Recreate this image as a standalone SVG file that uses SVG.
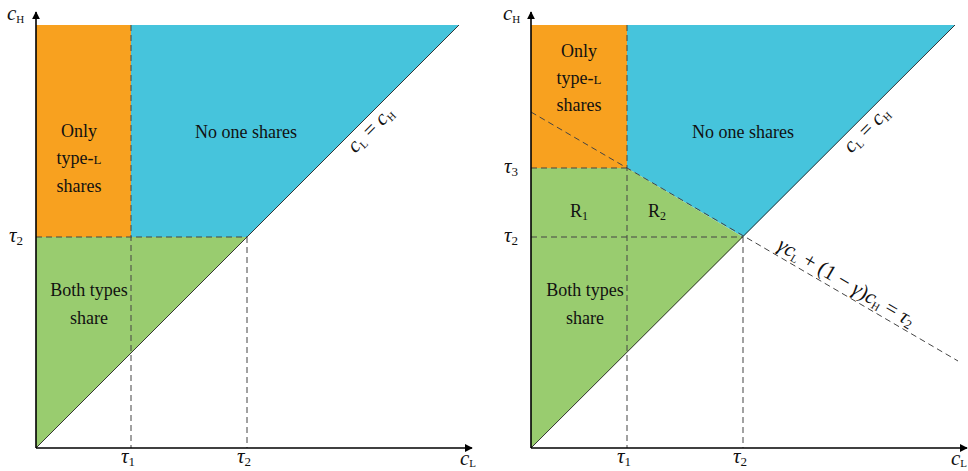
<svg xmlns="http://www.w3.org/2000/svg" width="968" height="471" viewBox="0 0 968 471" font-family="'Liberation Serif', 'DejaVu Serif', serif">
<defs>
<marker id="ah" viewBox="0 0 10 10" refX="9" refY="5" markerWidth="8" markerHeight="8" markerUnits="userSpaceOnUse" orient="auto"><path d="M0,0 L10,5 L0,10 z" fill="#000"/></marker>
<style>
.or{fill:#F8A11F}.bl{fill:#46C4DC}.gr{fill:#99CC6F}
.ds{stroke:#444;stroke-width:1;stroke-dasharray:6,4;fill:none}
.ax{stroke:#000;stroke-width:1.6;fill:none;marker-end:url(#ah)}
.dg{stroke:#222;stroke-width:0.9;fill:none}
text{font-family:'Liberation Serif','DejaVu Serif',serif;fill:#111}
.t{font-size:18px;text-anchor:middle}
.m{font-size:21px;font-style:italic}
.s{font-size:11px;font-style:normal}
.n{font-size:13px;font-style:normal}
.sc{font-size:13px}
</style>
</defs>
<g id="left-panel">
<g id="left-regions">
<rect class="or" x="36" y="25" width="95" height="212"/>
<polygon class="bl" points="131,25 459,25 247,237 131,237"/>
<polygon class="gr" points="36,237 247,237 36,448"/>
</g>
<g id="left-connectors">
<line class="ds" x1="131" y1="25" x2="131" y2="448"/>
<line class="ds" x1="247" y1="237" x2="247" y2="448"/>
<line class="ds" x1="36" y1="237" x2="247" y2="237"/>
<line class="dg" x1="36" y1="448" x2="459" y2="25"/>
<line class="ax" x1="36" y1="448" x2="472" y2="448"/>
<line class="ax" x1="36" y1="448" x2="36" y2="12"/>
</g>
<g id="left-labels">
<text class="t" x="79" y="137">Only</text>
<text class="t" x="79" y="164">type-<tspan class="sc">L</tspan></text>
<text class="t" x="79" y="192">shares</text>
<text class="t" x="246" y="138">No one shares</text>
<text class="t" x="89" y="296">Both types</text>
<text class="t" x="89" y="324">share</text>
<text class="m" x="7" y="20">c<tspan class="s" dy="3">H</tspan></text>
<text class="m" x="9" y="242">τ<tspan class="n" dy="3">2</tspan></text>
<text class="m" x="121" y="463">τ<tspan class="n" dy="3">1</tspan></text>
<text class="m" x="237" y="463">τ<tspan class="n" dy="3">2</tspan></text>
<text class="m" x="460" y="465">c<tspan class="s" dy="2">L</tspan></text>
<text class="m" font-size="19" transform="translate(375,134) rotate(-45)" text-anchor="middle">c<tspan class="s" dy="3">L</tspan><tspan dy="-3" font-style="normal"> = </tspan>c<tspan class="s" dy="3">H</tspan></text>
</g>
</g>
<g id="right-panel">
<g id="right-regions">
<rect class="or" x="531" y="25" width="96" height="143"/>
<polygon class="bl" points="627,25 955,25 743,237 627,168"/>
<polygon class="gr" points="531,168 627,168 743,237 531,448"/>
</g>
<g id="right-connectors">
<line class="ds" x1="627" y1="25" x2="627" y2="448"/>
<line class="ds" x1="743" y1="237" x2="743" y2="448"/>
<line class="ds" x1="531" y1="168" x2="627" y2="168"/>
<line class="ds" x1="531" y1="237" x2="743" y2="237"/>
<line class="ds" x1="531" y1="112" x2="958" y2="361"/>
<line class="dg" x1="531" y1="448" x2="955" y2="25"/>
<line class="ax" x1="531" y1="448" x2="967" y2="448"/>
<line class="ax" x1="531" y1="448" x2="531" y2="12"/>
</g>
<g id="right-labels">
<text class="t" x="579" y="57">Only</text>
<text class="t" x="579" y="84">type-<tspan class="sc">L</tspan></text>
<text class="t" x="579" y="111">shares</text>
<text class="t" x="743" y="138">No one shares</text>
<text class="t" x="585" y="296">Both types</text>
<text class="t" x="585" y="324">share</text>
<text class="t" x="579" y="217" font-size="16">R<tspan font-size="12" dy="3">1</tspan></text>
<text class="t" x="657" y="217" font-size="16">R<tspan font-size="12" dy="3">2</tspan></text>
<text class="m" x="503" y="20">c<tspan class="s" dy="3">H</tspan></text>
<text class="m" x="504" y="173">τ<tspan class="n" dy="3">3</tspan></text>
<text class="m" x="504" y="242">τ<tspan class="n" dy="3">2</tspan></text>
<text class="m" x="617" y="463">τ<tspan class="n" dy="3">1</tspan></text>
<text class="m" x="733" y="463">τ<tspan class="n" dy="3">2</tspan></text>
<text class="m" x="951" y="465">c<tspan class="s" dy="2">L</tspan></text>
<text class="m" font-size="19" transform="translate(871,134) rotate(-45)" text-anchor="middle">c<tspan class="s" dy="3">L</tspan><tspan dy="-3" font-style="normal"> = </tspan>c<tspan class="s" dy="3">H</tspan></text>
<text class="m" font-size="23" transform="translate(843,288) rotate(30.3)" text-anchor="middle">γc<tspan class="s" font-size="12" dy="3">L</tspan><tspan dy="-3" font-style="normal"> + (1 − </tspan>γ<tspan font-style="normal">)</tspan>c<tspan class="s" font-size="12" dy="3">H</tspan><tspan dy="-3" font-style="normal"> = </tspan>τ<tspan class="n" font-size="14" dy="3">2</tspan></text>
</g>
</g>
</svg>
